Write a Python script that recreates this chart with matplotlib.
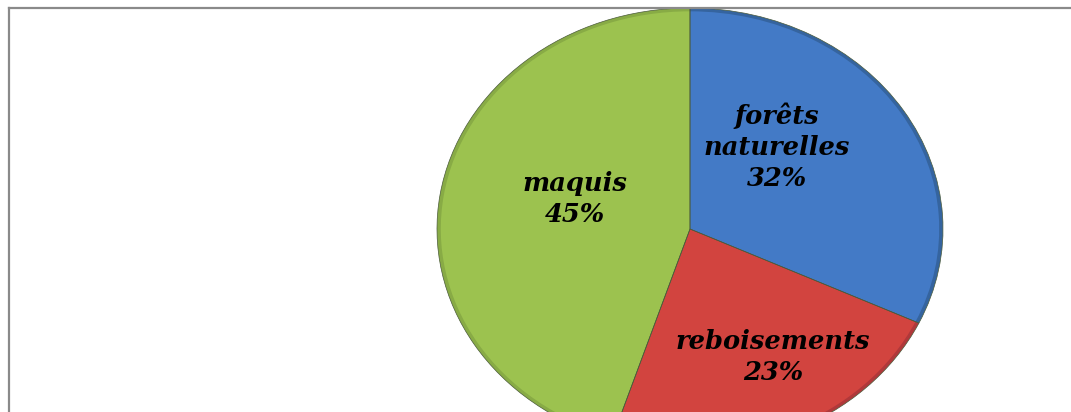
import matplotlib.pyplot as plt
from matplotlib.lines import Line2D

labels = ['forêts\nnaturelles', 'reboisements', 'maquis']
values = [32, 23, 45]
colors = ['#437ac6', '#d2443f', '#9cc24f']
rim_colors = ['#35649f', '#b0383a', '#88ab45']

# pie centre / radii in pixels of the original picture
W, H = 1071, 412
cx, cy, rx, ry = 690, 229, 253, 221

def px(x, y):
    return (x - cx) / rx, (cy - y) / ry

fig = plt.figure(figsize=(W / 100, H / 100), dpi=100)
ax = fig.add_axes([0, 0, 1, 1])
# darker rim, then the main face on top
ax.pie(values, colors=rim_colors, startangle=90, counterclock=False,
       radius=1, center=(0, 0), wedgeprops=dict(linewidth=0))
ax.pie(values, colors=colors, startangle=90, counterclock=False,
       radius=0.985, center=(0, 0), wedgeprops=dict(linewidth=0))
# thin dark line along the slice borders
ax.pie(values, colors=['white'] * 3, startangle=90, counterclock=False,
       radius=1, center=(0, 0),
       wedgeprops=dict(edgecolor='#4a5a3a', linewidth=0.5, fill=False))
ax.set_aspect('auto')
ax.set_xlim(-cx / rx, (W - cx) / rx)
ax.set_ylim(-(H - cy) / ry, cy / ry)
ax.axis('off')

label_pos = [(777, 147), (773, 357), (575, 199)]
for lab, v, (x, y) in zip(labels, values, label_pos):
    tx, ty = px(x, y)
    ax.text(tx, ty, f'{lab}\n{v}%', ha='center', va='center',
            fontsize=18.5, fontweight='bold', fontstyle='italic',
            family='DejaVu Serif', linespacing=1.3, color='black')

# frame (left and top edges visible only)
fig.add_artist(Line2D([8.5 / W, 8.5 / W], [0, 1 - 7.5 / H],
                      transform=fig.transFigure, color='#8a8a8a', lw=1.6))
fig.add_artist(Line2D([8.5 / W, 1], [1 - 7.5 / H, 1 - 7.5 / H],
                      transform=fig.transFigure, color='#8a8a8a', lw=1.6))

fig.savefig('out.png', dpi=100)
